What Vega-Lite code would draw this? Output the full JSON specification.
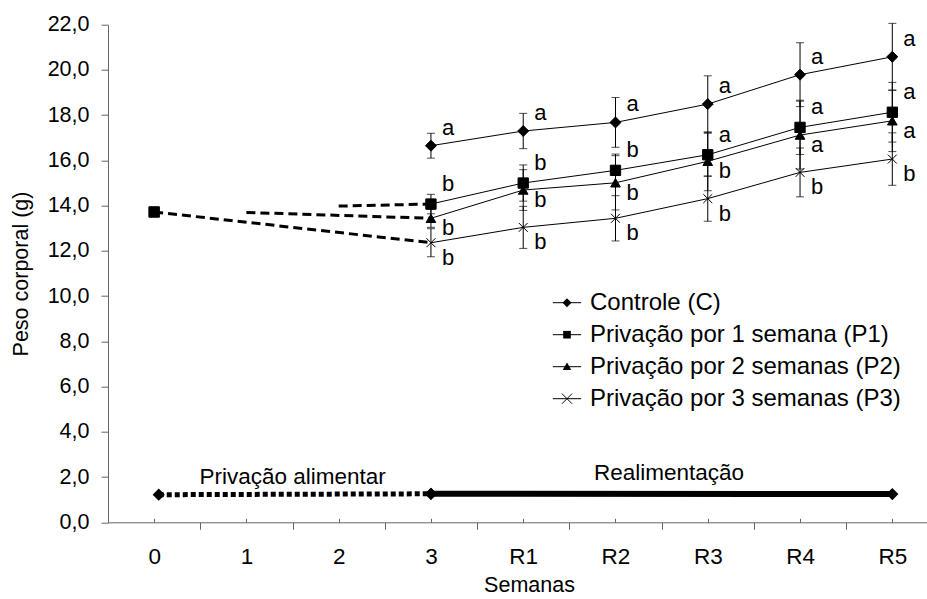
{
  "$schema": "https://vega.github.io/schema/vega-lite/v6.json",
  "width": 819,
  "height": 497.6,
  "autosize": {"type": "none"},
  "padding": {"left": 108, "top": 24.7, "right": 0, "bottom": 76.7},
  "config": {
    "view": {"stroke": null},
    "font": "Liberation Sans",
    "axis": {"grid": false, "domainColor": "#666", "tickColor": "#666", "labelColor": "black", "titleColor": "black", "titleFontWeight": "normal", "labelFontSize": 21.5, "titleFontSize": 21.5}
  },
  "resolve": {"scale": {"shape": "independent", "size": "independent"}, "legend": {"shape": "independent", "size": "independent"}},
  "datasets": {
    "main": [
      {"g": "Controle (C)", "w": 3, "m": 16.65, "lo": 16.1, "hi": 17.2, "t": "a"},
      {"g": "Controle (C)", "w": 4, "m": 17.3, "lo": 16.52, "hi": 18.08, "t": "a"},
      {"g": "Controle (C)", "w": 5, "m": 17.68, "lo": 16.58, "hi": 18.78, "t": "a"},
      {"g": "Controle (C)", "w": 6, "m": 18.49, "lo": 17.24, "hi": 19.74, "t": "a"},
      {"g": "Controle (C)", "w": 7, "m": 19.79, "lo": 18.38, "hi": 21.2, "t": "a"},
      {"g": "Controle (C)", "w": 8, "m": 20.58, "lo": 19.1, "hi": 22.06, "t": "a"},
      {"g": "Privação por 1 semana (P1)", "w": 3, "m": 14.07, "lo": 13.64, "hi": 14.5, "t": "b"},
      {"g": "Privação por 1 semana (P1)", "w": 4, "m": 15.0, "lo": 14.2, "hi": 15.8, "t": "b"},
      {"g": "Privação por 1 semana (P1)", "w": 5, "m": 15.56, "lo": 14.84, "hi": 16.28, "t": "b"},
      {"g": "Privação por 1 semana (P1)", "w": 6, "m": 16.25, "lo": 15.3, "hi": 17.2, "t": "a"},
      {"g": "Privação por 1 semana (P1)", "w": 7, "m": 17.46, "lo": 16.26, "hi": 18.66, "t": "a"},
      {"g": "Privação por 1 semana (P1)", "w": 8, "m": 18.13, "lo": 16.81, "hi": 19.45, "t": "a"},
      {"g": "Privação por 2 semanas (P2)", "w": 3, "m": 13.44, "lo": 13.04, "hi": 13.84, "t": "b"},
      {"g": "Privação por 2 semanas (P2)", "w": 4, "m": 14.69, "lo": 13.79, "hi": 15.59, "t": "b"},
      {"g": "Privação por 2 semanas (P2)", "w": 5, "m": 15.01, "lo": 13.81, "hi": 16.21, "t": "b"},
      {"g": "Privação por 2 semanas (P2)", "w": 6, "m": 15.96, "lo": 14.66, "hi": 17.26, "t": "b"},
      {"g": "Privação por 2 semanas (P2)", "w": 7, "m": 17.12, "lo": 15.62, "hi": 18.62, "t": "a"},
      {"g": "Privação por 2 semanas (P2)", "w": 8, "m": 17.75, "lo": 16.39, "hi": 19.11, "t": "a"},
      {"g": "Privação por 3 semanas (P3)", "w": 3, "m": 12.36, "lo": 11.74, "hi": 12.98, "t": "b"},
      {"g": "Privação por 3 semanas (P3)", "w": 4, "m": 13.04, "lo": 12.11, "hi": 13.97, "t": "b"},
      {"g": "Privação por 3 semanas (P3)", "w": 5, "m": 13.44, "lo": 12.44, "hi": 14.44, "t": "b"},
      {"g": "Privação por 3 semanas (P3)", "w": 6, "m": 14.31, "lo": 13.31, "hi": 15.31, "t": "b"},
      {"g": "Privação por 3 semanas (P3)", "w": 7, "m": 15.47, "lo": 14.39, "hi": 16.55, "t": "b"},
      {"g": "Privação por 3 semanas (P3)", "w": 8, "m": 16.06, "lo": 14.9, "hi": 17.22, "t": "b"}
    ],
    "dashed": [
      {"g": "Privação por 1 semana (P1)", "w": 2, "m": 13.98},
      {"g": "Privação por 1 semana (P1)", "w": 3, "m": 14.07},
      {"g": "Privação por 2 semanas (P2)", "w": 1, "m": 13.7},
      {"g": "Privação por 2 semanas (P2)", "w": 3, "m": 13.44},
      {"g": "Privação por 3 semanas (P3)", "w": 0, "m": 13.72},
      {"g": "Privação por 3 semanas (P3)", "w": 3, "m": 12.36}
    ],
    "start": [
      {"g": "Privação por 1 semana (P1)", "w": 0, "m": 13.72},
      {"g": "Privação por 3 semanas (P3)", "w": 0, "m": 13.72}
    ],
    "phase": [
      {"p": "Privação alimentar", "w": 0.05, "v": 1.22},
      {"p": "Privação alimentar", "w": 3, "v": 1.26},
      {"p": "Realimentação", "w": 3, "v": 1.26},
      {"p": "Realimentação", "w": 8, "v": 1.25}
    ],
    "notes": [
      {"txt": "Privação alimentar", "w": 1.5, "v": 2.0},
      {"txt": "Realimentação", "w": 5.58, "v": 2.2}
    ]
  },
  "encoding": {
    "x": {
      "field": "w", "type": "quantitative",
      "scale": {"domain": [-0.5, 8.376], "nice": false, "zero": false},
      "axis": {
        "title": "Semanas",
        "values": [0, 0.5, 1, 1.5, 2, 2.5, 3, 3.5, 4, 4.5, 5, 5.5, 6, 6.5, 7, 7.5, 8],
        "labelExpr": "datum.value % 1 === 0 ? ['0','1','2','3','R1','R2','R3','R4','R5'][datum.value] : ''",
        "tickSize": {"condition": {"test": "datum.value % 1 === 0", "value": -4}, "value": 7},
        "labelBaseline": "alphabetic",
        "labelFontSize": 22.5,
        "labelPadding": 45,
        "labelFlush": false,
        "labelOverlap": false,
        "titleBaseline": "alphabetic",
        "titleAlign": "center",
        "titleX": 421,
        "titleY": 69
      }
    }
  },
  "layer": [
    {
      "data": {"name": "main"},
      "mark": {"type": "rule", "color": "black", "strokeWidth": 1},
      "encoding": {
        "y": {"field": "lo", "type": "quantitative", "scale": {"domain": [0, 22], "nice": false},
          "axis": {"title": "Peso corporal (g)", "values": [0, 2, 4, 6, 8, 10, 12, 14, 16, 18, 20, 22],
            "labelExpr": "replace(format(datum.value, '.1f'), '.', ',')", "tickSize": 7, "labelPadding": 12,
            "titleX": -87, "titleBaseline": "middle"}},
        "y2": {"field": "hi"}
      }
    },
    {
      "data": {"name": "main"},
      "mark": {"type": "tick", "orient": "horizontal", "size": 8, "thickness": 1, "color": "black"},
      "encoding": {"y": {"field": "lo", "type": "quantitative"}}
    },
    {
      "data": {"name": "main"},
      "mark": {"type": "tick", "orient": "horizontal", "size": 8, "thickness": 1, "color": "black"},
      "encoding": {"y": {"field": "hi", "type": "quantitative"}}
    },
    {
      "data": {"name": "main"},
      "mark": {"type": "line", "color": "black", "strokeWidth": 1},
      "encoding": {"y": {"field": "m", "type": "quantitative"}, "detail": {"field": "g"}}
    },
    {
      "data": {"name": "dashed"},
      "mark": {"type": "line", "color": "black", "strokeWidth": 3, "strokeDash": [9, 5]},
      "encoding": {"y": {"field": "m", "type": "quantitative"}, "detail": {"field": "g"}}
    },
    {
      "data": {"name": "start"},
      "mark": {"type": "point", "filled": true, "fill": "black", "stroke": "black", "strokeWidth": 1, "opacity": 1},
      "encoding": {
        "y": {"field": "m", "type": "quantitative"},
        "shape": {"field": "g", "type": "nominal", "legend": null,
          "scale": {
            "domain": ["Controle (C)", "Privação por 1 semana (P1)", "Privação por 2 semanas (P2)", "Privação por 3 semanas (P3)"],
            "range": ["diamond", "square", "triangle-up", "M-1,-1L1,1M-1,1L1,-1"]
          }},
        "size": {"field": "g", "type": "nominal", "legend": null,
          "scale": {
            "domain": ["Controle (C)", "Privação por 1 semana (P1)", "Privação por 2 semanas (P2)", "Privação por 3 semanas (P3)"],
            "range": [120, 90, 90, 196]
          }}
      }
    },
    {
      "data": {"name": "main"},
      "mark": {"type": "point", "filled": true, "fill": "black", "stroke": "black", "strokeWidth": 1, "opacity": 1},
      "encoding": {
        "y": {"field": "m", "type": "quantitative"},
        "shape": {"field": "g", "type": "nominal", "legend": null,
          "scale": {
            "domain": ["Controle (C)", "Privação por 1 semana (P1)", "Privação por 2 semanas (P2)", "Privação por 3 semanas (P3)"],
            "range": ["diamond", "square", "triangle-up", "M-1,-1L1,1M-1,1L1,-1"]
          }},
        "size": {"field": "g", "type": "nominal", "legend": null,
          "scale": {
            "domain": ["Controle (C)", "Privação por 1 semana (P1)", "Privação por 2 semanas (P2)", "Privação por 3 semanas (P3)"],
            "range": [120, 80, 90, 196]
          }}
      }
    },
    {
      "data": {"name": "main"},
      "transform": [{"filter": "datum.w < 0"}],
      "mark": {"type": "point", "filled": false, "color": "black", "strokeWidth": 1},
      "encoding": {
        "y": {"field": "m", "type": "quantitative"},
        "shape": {
          "field": "g", "type": "nominal",
          "scale": {
            "domain": ["Controle (C)", "Privação por 1 semana (P1)", "Privação por 2 semanas (P2)", "Privação por 3 semanas (P3)"],
            "range": [
              "M-1,0L1,0",
              "M-1,0L1,0",
              "M-1,0L1,0",
              "M-1,0L1,0M-0.36,-0.36L0.36,0.36M-0.36,0.36L0.36,-0.36"
            ]
          },
          "legend": {
            "orient": "none", "legendX": 444, "legendY": 263, "title": null, "padding": 0,
            "labelFontSize": 24, "labelColor": "black", "labelOffset": 8, "labelLimit": 600, "rowPadding": 5,
            "symbolSize": 800, "symbolStrokeWidth": 1, "symbolStrokeColor": "black", "symbolOpacity": 1
          }
        }
      }
    },
    {
      "data": {"name": "main"},
      "transform": [{"filter": "datum.w < 0"}],
      "mark": {"type": "point", "filled": true, "color": "black"},
      "encoding": {
        "y": {"field": "m", "type": "quantitative"},
        "shape": {
          "field": "g", "type": "nominal",
          "scale": {
            "domain": ["Controle (C)", "Privação por 1 semana (P1)", "Privação por 2 semanas (P2)", "Privação por 3 semanas (P3)"],
            "range": [
              "M-0.32,0L0,-0.32L0.32,0L0,0.32Z",
              "M-0.27,-0.27L0.27,-0.27L0.27,0.27L-0.27,0.27Z",
              "M-0.3,0.24L0,-0.3L0.3,0.24Z",
              "M0,0L0,0"
            ]
          },
          "legend": {
            "orient": "none", "legendX": 444, "legendY": 263, "title": null, "padding": 0,
            "labelFontSize": 24, "labelColor": "black", "labelOpacity": 0, "labelOffset": 8, "labelLimit": 600, "rowPadding": 5,
            "symbolSize": 800, "symbolFillColor": "black", "symbolOpacity": 1
          }
        }
      }
    },
    {
      "data": {"name": "main"},
      "transform": [{"filter": "datum.g === 'Controle (C)'"}],
      "mark": {"type": "text", "fontSize": 22, "align": "left", "baseline": "middle", "dx": 11, "dy": -18, "color": "black"},
      "encoding": {"y": {"field": "m", "type": "quantitative"}, "text": {"field": "t"}}
    },
    {
      "data": {"name": "main"},
      "transform": [{"filter": "datum.g === 'Privação por 1 semana (P1)'"}],
      "mark": {"type": "text", "fontSize": 22, "align": "left", "baseline": "middle", "dx": 11, "dy": -20, "color": "black"},
      "encoding": {"y": {"field": "m", "type": "quantitative"}, "text": {"field": "t"}}
    },
    {
      "data": {"name": "main"},
      "transform": [{"filter": "datum.g === 'Privação por 2 semanas (P2)'"}],
      "mark": {"type": "text", "fontSize": 22, "align": "left", "baseline": "middle", "dx": 11, "dy": 10, "color": "black"},
      "encoding": {"y": {"field": "m", "type": "quantitative"}, "text": {"field": "t"}}
    },
    {
      "data": {"name": "main"},
      "transform": [{"filter": "datum.g === 'Privação por 3 semanas (P3)'"}],
      "mark": {"type": "text", "fontSize": 22, "align": "left", "baseline": "middle", "dx": 11, "dy": 15, "color": "black"},
      "encoding": {"y": {"field": "m", "type": "quantitative"}, "text": {"field": "t"}}
    },
    {
      "data": {"name": "phase"},
      "transform": [{"filter": "datum.p === 'Privação alimentar'"}],
      "mark": {"type": "line", "color": "black", "strokeWidth": 5, "strokeDash": [5, 3]},
      "encoding": {"y": {"field": "v", "type": "quantitative"}}
    },
    {
      "data": {"name": "phase"},
      "transform": [{"filter": "datum.p === 'Realimentação'"}],
      "mark": {"type": "line", "color": "black", "strokeWidth": 6},
      "encoding": {"y": {"field": "v", "type": "quantitative"}}
    },
    {
      "data": {"name": "phase"},
      "mark": {"type": "point", "shape": "diamond", "filled": true, "color": "black", "size": 150, "opacity": 1},
      "encoding": {"y": {"field": "v", "type": "quantitative"}}
    },
    {
      "data": {"name": "notes"},
      "mark": {"type": "text", "fontSize": 22.5, "align": "center", "baseline": "middle", "color": "black"},
      "encoding": {"y": {"field": "v", "type": "quantitative"}, "text": {"field": "txt"}}
    }
  ]
}
